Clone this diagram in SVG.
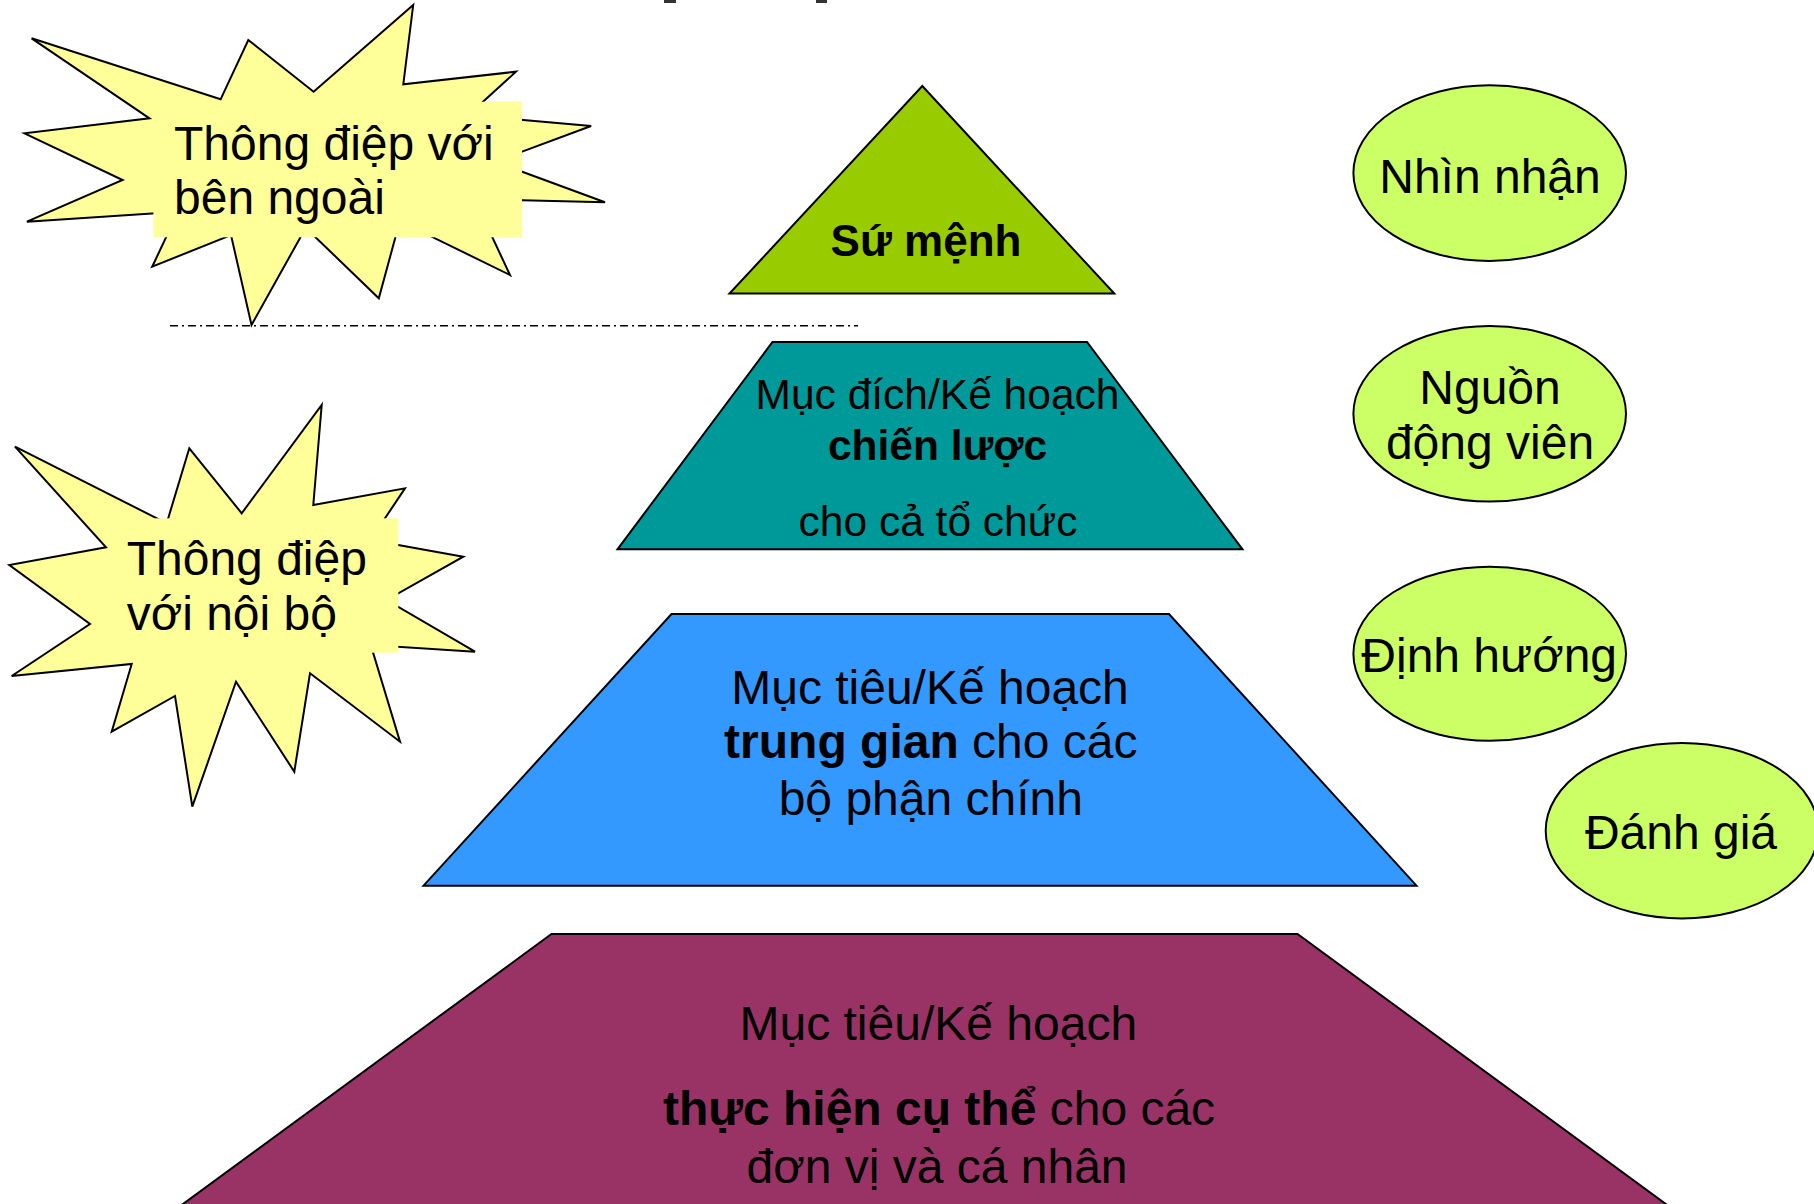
<svg xmlns="http://www.w3.org/2000/svg" width="1814" height="1204" viewBox="0 0 1814 1204">
<style>
  text { font-family: "Liberation Sans", Arial, sans-serif; fill: #000; }
  .shape { stroke: #000; stroke-width: 2; stroke-linejoin: miter; }
  .star { fill: #FFFF99; stroke: #000; stroke-width: 2; stroke-linejoin: miter; }
  .lbl { fill: #FFFF99; }
  .oval { fill: #CCFF66; stroke: #000; stroke-width: 2; }
  .c { text-anchor: middle; }
  .b { font-weight: bold; }
  .f48 { font-size: 48px; }
  .f47 { font-size: 48px; }
  .f43 { font-size: 42.5px; }
</style>
<rect width="1814" height="1204" fill="#FFFFFF"/>
<g id="title-remnant" fill="#333333">
  <rect x="664" y="0" width="12" height="3"/>
  <rect x="816" y="0" width="11" height="3"/>
</g>

<g id="star-external">
  <path class="star" d="M31.6,38.3 L220.6,99.3 L248.3,40 L313.6,91.7 L413.2,5 L403.3,84.3 L516,71.7 L475,109 L512,119 L591.1,126 L512,155.4 L512,168 L605,202.3 L512,200 L488,228 L510,275 L425,233.4 L397.5,229.6 L378.8,298.3 L308,230 L304.5,230 L251.5,325 L231,235 L152.2,266.7 L170,229 L163,212.7 L26.9,221.7 L122.6,180 L24.5,133.3 L149.5,118.3 Z"/>
  <rect class="lbl" x="153.4" y="101.7" width="368.6" height="135.6"/>
  <text class="f48" x="174" y="160">Thông điệp với</text>
  <text class="f48" x="174" y="214.3">bên ngoài</text>
</g>

<g id="star-internal">
  <path class="star" d="M15,446.7 L166.7,523.3 L189.3,448.3 L241.7,513.3 L321.7,405 L313.3,505 L405,488.3 L370.5,540 L463.3,556.7 L386.6,600 L475,651.7 L370.8,645 L400,741.7 L310,673.3 L294.3,771.7 L236,681.7 L192.3,806.7 L175,696 L111.7,731.7 L131.7,664 L11.7,676 L90,624 L9.3,565 L106,547.3 Z"/>
  <rect class="lbl" x="110" y="518.3" width="288.3" height="134.4"/>
  <text class="f48" x="126.7" y="575">Thông điệp</text>
  <text class="f48" x="126.7" y="630">với nội bộ</text>
</g>

<g id="separator">
  <line x1="170" y1="325.7" x2="858" y2="325.7" stroke="#000" stroke-width="1.5" stroke-dasharray="8 4 2 4"/>
</g>

<g id="mission">
  <polygon class="shape" fill="#99CC00" points="922.3,86 1114.3,293.6 729.5,293.6"/>
  <text class="c b" font-size="44" x="926" y="256.4">Sứ mệnh</text>
</g>

<g id="strategic">
  <polygon class="shape" fill="#009999" points="772.5,342 1087,342 1242.5,549.3 617.5,549.3"/>
  <text class="c f43" x="937.5" y="409.3">Mục đích/Kế hoạch</text>
  <text class="c f43 b" x="937.5" y="460">chiến lược</text>
  <text class="c f43" x="938" y="536">cho cả tổ chức</text>
</g>

<g id="intermediate">
  <polygon class="shape" fill="#3399FF" points="671.5,614 1169,614 1416.5,885.7 423.5,885.7"/>
  <text class="c f47" x="930" y="704">Mục tiêu/Kế hoạch</text>
  <text class="c f47" x="930.8" y="758.3"><tspan class="b">trung gian</tspan> cho các</text>
  <text class="c f47" x="930.8" y="815">bộ phận chính</text>
</g>

<g id="operational">
  <polygon class="shape" fill="#993366" points="551.5,934 1297.5,934 1674,1210 174.8,1210"/>
  <text class="c f47" x="938.3" y="1040">Mục tiêu/Kế hoạch</text>
  <text class="c f47" x="939" y="1125"><tspan class="b">thực hiện cụ thể</tspan> cho các</text>
  <text class="c f47" x="937" y="1182.7">đơn vị và cá nhân</text>
</g>

<g id="oval-nhin-nhan">
  <ellipse class="oval" cx="1489.7" cy="173.1" rx="136.3" ry="87.8"/>
  <text class="c f47" x="1490" y="193.3">Nhìn nhận</text>
</g>
<g id="oval-nguon-dong-vien">
  <ellipse class="oval" cx="1489.7" cy="413.8" rx="136.3" ry="87.8"/>
  <text class="c f47" x="1490" y="404">Nguồn</text>
  <text class="c f47" x="1490" y="459.3">động viên</text>
</g>
<g id="oval-dinh-huong">
  <ellipse class="oval" cx="1489.7" cy="653.8" rx="136.3" ry="87"/>
  <text class="c f47" x="1489.2" y="671.7">Định hướng</text>
</g>
<g id="oval-danh-gia">
  <ellipse class="oval" cx="1682" cy="830.7" rx="136.3" ry="87.8"/>
  <text class="c f47" x="1681" y="848.5">Đánh giá</text>
</g>
</svg>
